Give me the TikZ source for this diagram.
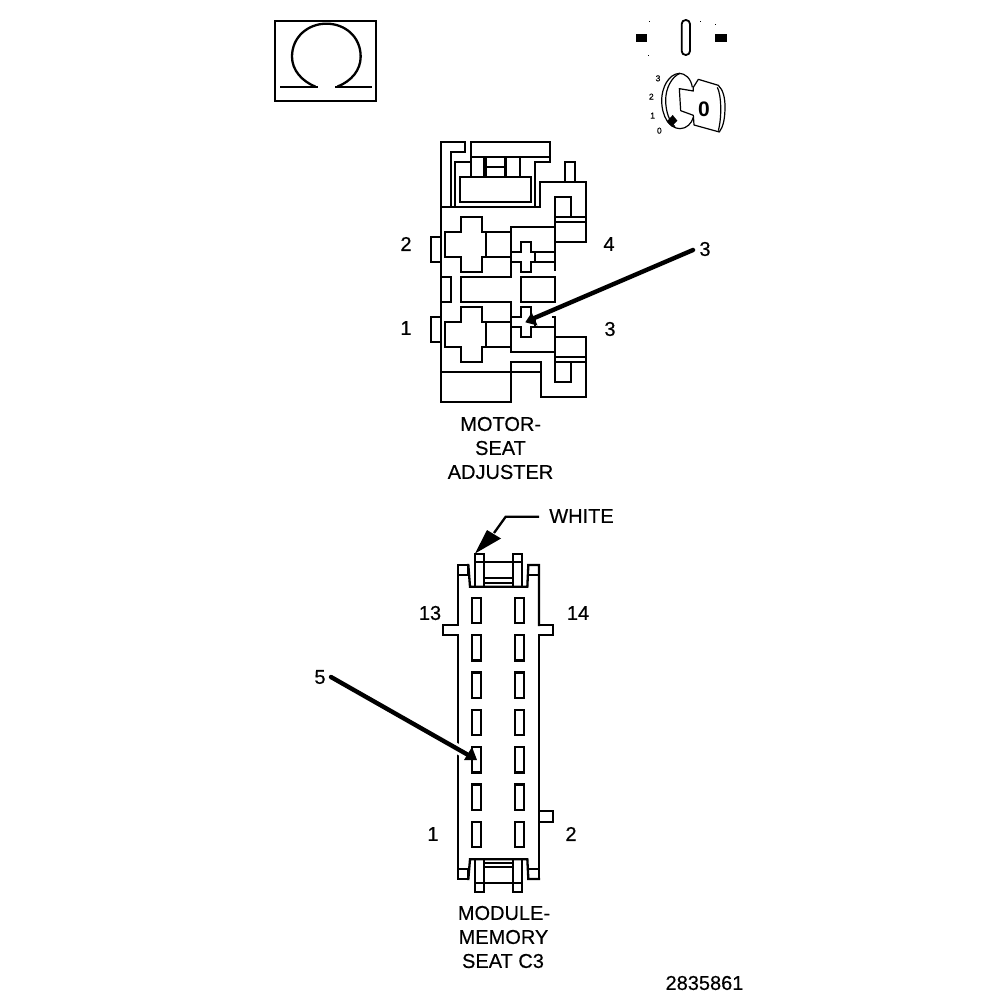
\documentclass[tikz,border=0pt]{standalone}
\usepackage{fontspec}
\setmainfont{Liberation Sans}
\newfontfamily\labfont[FakeBold=0.35]{Liberation Sans}
\tikzset{
  ln/.style={line width=2.3pt,line cap=rect,line join=miter},
  thin ln/.style={line width=1.2pt,line join=round},
  lab/.style={inner sep=0pt,font=\labfont\fontsize{20}{20}\selectfont},
  tiny lab/.style={inner sep=0pt,font=\labfont\fontsize{8.5}{8.5}\selectfont},
  pointer/.style={line width=4.4pt,line cap=round},
  halo/.style={line width=10pt,white},
  zoomA/.style={shift={(#1)},x=0.33333pt,y=-0.33333pt}
}
\begin{document}
\begin{tikzpicture}[x=1pt,y=-1pt]
\useasboundingbox (0,0) rectangle (1008,1000);
\fill[white] (0,0) rectangle (1008,1000);

% Omega symbol
\begin{scope}[zoomA={260,0}]
\draw[ln] (46,62) rectangle (349,302);
\draw[ln] (63,262) -- (170,262) (229,262) -- (332,262);
\draw[ln,line cap=butt] (166,260) .. controls (125,243) and (96,210) .. (96,170)
  .. controls (96,110) and (145,71) .. (199,71)
  .. controls (255,71) and (302,110) .. (302,170)
  .. controls (302,210) and (275,243) .. (232,260);
\end{scope}

% Key and switch symbol
\begin{scope}[zoomA={630,10}]
\fill (18,72) rectangle (52,97);
\fill (256,72) rectangle (290,97);
\draw[line width=1.8pt,rounded corners=4pt] (155,30) rectangle (180,135);
\fill (57,34) rectangle +(2,2);
\fill (209,33) rectangle +(2,2);
\fill (256,41) rectangle +(2,2);
\fill (54,134) rectangle +(2,2);
\draw[thin ln] (187,232) .. controls (183,205) and (165,190) .. (148,190)
  .. controls (115,192) and (95,235) .. (95,270)
  .. controls (95,320) and (118,355) .. (150,356)
  .. controls (170,356) and (185,340) .. (190,322);
\draw[thin ln] (150,190) .. controls (125,200) and (107,235) .. (107,270)
  .. controls (107,305) and (118,335) .. (135,350);
\draw[thin ln] (190,232) -- (205,208) -- (265,226)
  .. controls (280,240) and (285,265) .. (285,290)
  .. controls (285,325) and (280,350) .. (268,366)
  -- (192,345) -- (190,316) -- (152,302) -- (148,236) -- (190,243) -- (190,232);
\draw[thin ln] (262,232) .. controls (274,255) and (276,320) .. (265,362);
\fill (128,315) -- (142,332) -- (125,350) -- (110,335) -- cycle;
\node[inner sep=0pt,font=\fontsize{21}{21}\selectfont\bfseries] (keyzero) at (222,297) {0};
\node[tiny lab] (pos3) at (84,205) {3};
\node[tiny lab] (pos2) at (64,260) {2};
\node[tiny lab] (pos1) at (68,317) {1};
\node[tiny lab] (pos0) at (88,362) {0};
\end{scope}

% Motor connector, upper half
\begin{scope}[zoomA={420,130}]
\draw[ln] (63,420) -- (63,35) -- (135,35) -- (135,65) -- (93,65) -- (93,230);
\draw[ln] (105,230) -- (105,97) -- (153,97);
\draw[ln] (153,35) rectangle (390,80);
\draw[ln] (153,80) -- (153,140) (193,80) -- (193,140) (198,80) -- (198,140)
  (255,80) -- (255,140) (258,80) -- (258,140) (300,80) -- (300,140) (200,110) -- (255,110);
\draw[ln] (121,140) rectangle (333,215);
\draw[ln] (345,230) -- (345,97) -- (390,97) -- (390,80);
\draw[ln] (63,230) -- (360,230) -- (360,155) -- (497,155) -- (497,335) -- (405,335);
\draw[ln] (435,155) -- (435,97) -- (465,97) -- (465,155);
\draw[ln] (405,420) -- (405,200) -- (453,200) -- (453,260);
\draw[ln] (405,260) -- (497,260) (405,275) -- (497,275);
\draw[ln] (63,320) -- (33,320) -- (33,395) -- (63,395);
\draw[ln] (123,420) -- (123,380) -- (75,380) -- (75,305) -- (123,305) -- (123,260) -- (185,260)
  -- (185,305) -- (197,305) -- (197,380) -- (185,380) -- (185,420);
\draw[ln] (197,305) -- (272,305) (197,380) -- (272,380);
\draw[ln] (272,420) -- (272,290) -- (405,290);
\draw[ln] (272,365) -- (303,365) -- (303,335) -- (333,335) -- (333,365) -- (345,365) -- (345,395)
  -- (333,395) -- (333,420);
\draw[ln] (272,395) -- (303,395) -- (303,420);
\draw[ln] (345,365) -- (405,365) (345,395) -- (405,395);
\end{scope}

% Motor connector, lower half
\begin{scope}[zoomA={420,265}]
\draw[ln] (63,0) -- (63,410) -- (272,410) -- (272,290) -- (362,290) -- (362,395) -- (497,395)
  -- (497,215) -- (405,215);
\draw[ln] (63,320) -- (362,320);
\draw[ln] (123,0) -- (123,20) -- (185,20) -- (185,0);
\draw[ln] (272,0) -- (272,35) -- (122,35) -- (122,110) -- (272,110) -- (272,260) -- (405,260);
\draw[ln] (303,0) -- (303,20) -- (333,20) -- (333,0);
\draw[ln] (63,35) -- (93,35) -- (93,110) -- (63,110);
\draw[ln] (302,35) rectangle (405,110);
\draw[ln] (63,155) -- (33,155) -- (33,230) -- (63,230);
\draw[ln] (123,170) -- (123,125) -- (185,125) -- (185,170) -- (197,170) -- (197,245) -- (185,245)
  -- (185,290) -- (123,290) -- (123,245) -- (75,245) -- (75,170) -- cycle;
\draw[ln] (197,170) -- (272,170) (197,245) -- (272,245);
\draw[ln] (272,155) -- (303,155) -- (303,125) -- (333,125) -- (333,155) -- (345,155) -- (345,185);
\draw[ln] (272,185) -- (303,185) -- (303,215) -- (333,215) -- (333,185) -- (405,185);
\draw[ln] (398,155) -- (405,155);
\draw[ln] (405,155) -- (405,350) -- (453,350) -- (453,290) -- (405,290);
\draw[ln] (405,275) -- (497,275) (405,290) -- (497,290);
\end{scope}

% Memory module connector, top
\begin{scope}[zoomA={440,510}]
\draw[ln] (55,345) -- (55,165) -- (85,165) -- (85,195) -- (55,195);
\draw[ln] (85,165) -- (90,230) -- (262,230) -- (265,165) -- (297,165) -- (297,345);
\draw[ln] (265,195) -- (297,195);
\draw[ln] (105,230) -- (105,132) -- (133,132) -- (133,230) (105,155) -- (133,155);
\draw[ln] (220,230) -- (220,132) -- (245,132) -- (245,230) (220,155) -- (245,155);
\draw[ln] (133,155) -- (220,155) (133,205) -- (220,205) (133,218) -- (220,218);
\draw[ln] (55,345) -- (10,345) -- (10,375) -- (55,375);
\draw[ln] (297,345) -- (340,345) -- (340,375) -- (297,375);
\end{scope}

% Memory module connector, body and bottom
\draw[ln] (458,635) -- (458,879);
\draw[ln] (539,635) -- (539,879);
\foreach \k in {0,...,6}{
  \draw[ln] (472.3,{597.7+37.33*\k}) rectangle (481.3,{623.3+37.33*\k});
  \draw[ln] (515,{597.7+37.33*\k}) rectangle (524,{623.3+37.33*\k});
}
\begin{scope}[zoomA={440,780}]
\draw[ln] (55,297) -- (85,297) -- (85,268) -- (55,268);
\draw[ln] (85,297) -- (90,238) -- (262,238) -- (265,297) -- (297,297);
\draw[ln] (265,268) -- (297,268);
\draw[ln] (297,92) -- (340,92) -- (340,125) -- (297,125);
\draw[ln] (105,238) -- (105,335) -- (133,335) -- (133,238) (105,310) -- (133,310);
\draw[ln] (220,238) -- (220,335) -- (245,335) -- (245,238) (220,310) -- (245,310);
\draw[ln] (133,248) -- (220,248) (133,262) -- (220,262) (133,310) -- (220,310);
\end{scope}

% Labels
\node[lab] (m2) at (406,244) {2};
\node[lab] (m4) at (609,244) {4};
\node[lab] (m3call) at (705,249) {3};
\node[lab] (m1) at (406,328) {1};
\node[lab] (m3) at (610,329) {3};
\node[lab] (mot1) at (500.7,424) {MOTOR-};
\node[lab] (mot2) at (500.5,448) {SEAT};
\node[lab] (mot3) at (500.5,472) {ADJUSTER};
\node[lab] (white) at (581.5,516) {WHITE};
\node[lab] (c13) at (430,613) {13};
\node[lab] (c14) at (578,613) {14};
\node[lab] (c5) at (320,677) {5};
\node[lab] (c1) at (433,834) {1};
\node[lab] (c2) at (571,834) {2};
\node[lab] (mod1) at (504,913) {MODULE-};
\node[lab] (mod2) at (503.5,937) {MEMORY};
\node[lab] (mod3) at (503,961) {SEAT C3};
\node[lab] (fig) at (704.5,983) {2835861};

% Pointers
\coordinate (a3s) at (693,250);
\coordinate (a3e) at (532,319);
\draw[pointer] (a3s) -- (a3e);
\fill (525.3,322.3) -- (531.7,312.5) -- (537.5,325.5) -- cycle;
\coordinate (a5s) at (331,677);
\coordinate (a5h) at (463,752);
\coordinate (a5e) at (470,756);
\draw[halo] (a5s) -- (a5h);
\draw[pointer] (a5s) -- (a5e);
\fill (477,760) -- (464,760) -- (472,747) -- cycle;
\coordinate (ww) at (539,516.7);
\coordinate (wk) at (505.7,516.7);
\coordinate (wh) at (494,533);
\draw[line width=2.3pt] (ww) -- (wk) -- (wh);
\fill (475,553.5) -- (487,530) -- (501,538.5) -- cycle;
\end{tikzpicture}
\end{document}
